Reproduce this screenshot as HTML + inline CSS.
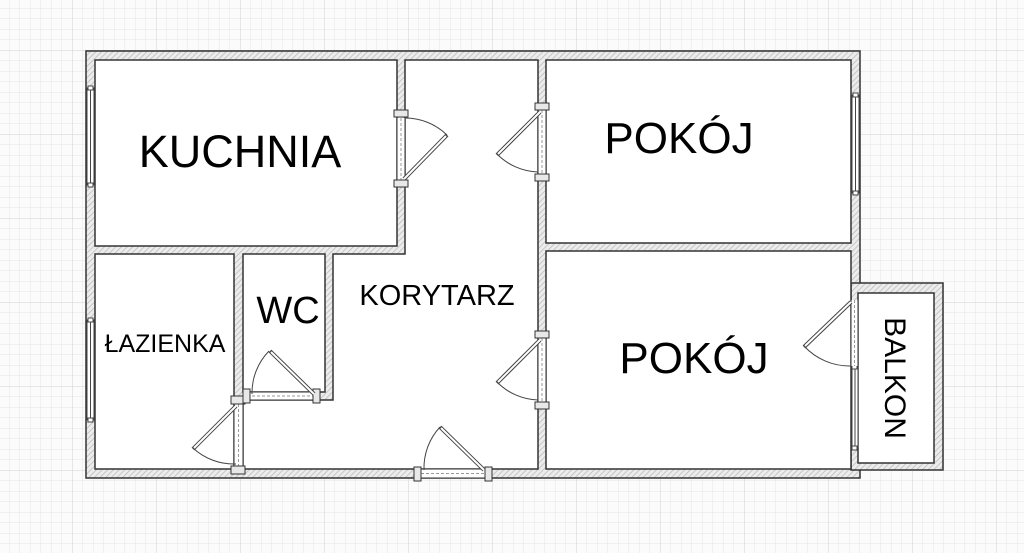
<!DOCTYPE html>
<html><head><meta charset="utf-8"><style>
html,body{margin:0;padding:0;background:#fff}
svg{display:block}
text{font-family:"Liberation Sans",Arial,sans-serif;fill:#000}
</style></head><body>
<svg width="1024" height="553" viewBox="0 0 1024 553" xmlns="http://www.w3.org/2000/svg">
<defs>
<pattern id="minor" x="72" y="50" width="10.5" height="10.5" patternUnits="userSpaceOnUse">
<path d="M0 0H10.5M0 0V10.5" stroke="#e6e6e6" stroke-width="1" fill="none"/>
</pattern>
<pattern id="major" x="72" y="50" width="84" height="84" patternUnits="userSpaceOnUse">
<path d="M0 0H84M0 0V84" stroke="#d2d2d2" stroke-width="1" fill="none"/>
</pattern>
<pattern id="hatch" width="4" height="4" patternUnits="userSpaceOnUse" patternTransform="rotate(45)">
<rect width="4" height="4" fill="#ececec"/>
<line x1="0" y1="0" x2="0" y2="4" stroke="#b5b5b5" stroke-width="1.4"/>
</pattern>
</defs>
<rect width="1024" height="553" fill="#fbfbfb"/>
<rect width="1024" height="553" fill="url(#minor)"/>
<rect width="1024" height="553" fill="url(#major)"/>

<g stroke="#333" stroke-width="1.5" fill="url(#hatch)">
<rect x="86" y="51" width="774" height="427"/>
<rect x="851" y="283" width="92" height="187"/>
</g>
<g stroke="#333" stroke-width="1.5" fill="#fff">
<rect x="95" y="60" width="302" height="186"/>
<polygon points="405,60 538,60 538,469 243,469 243,400 333,400 333,254 405,254"/>
<rect x="95" y="254" width="139" height="215"/>
<rect x="243" y="254" width="82" height="138"/>
<rect x="546" y="60" width="305" height="183"/>
<rect x="546" y="251" width="305" height="218"/>
<rect x="858" y="293" width="76" height="170"/>
</g>

<g stroke="#444" stroke-width="1" fill="#fff">
<rect x="87" y="88" width="7" height="97"/><line x1="90.5" y1="88" x2="90.5" y2="185"/>
<rect x="88" y="86" width="5" height="4"/><rect x="88" y="183" width="5" height="4"/>
<rect x="87" y="320" width="7" height="100"/><line x1="90.5" y1="320" x2="90.5" y2="420"/>
<rect x="88" y="318" width="5" height="4"/><rect x="88" y="418" width="5" height="4"/>
<rect x="852" y="95" width="7" height="98"/><line x1="855.5" y1="95" x2="855.5" y2="193"/>
<rect x="853" y="93" width="5" height="4"/><rect x="853" y="191" width="5" height="4"/>
<rect x="852" y="367" width="6" height="81"/><line x1="855" y1="367" x2="855" y2="448"/>
<rect x="852" y="365" width="5" height="4"/><rect x="852" y="446" width="5" height="4"/>
</g>

<g fill="#fff" stroke="none">
<rect x="397.5" y="118" width="7" height="62"/>
<rect x="538.5" y="110" width="7" height="64"/>
<rect x="538.5" y="338" width="7" height="64"/>
<rect x="234.5" y="404" width="8" height="62"/>
<rect x="247" y="392.5" width="68" height="7"/>
<rect x="421" y="469.5" width="64" height="8"/>
<rect x="851.5" y="300" width="6" height="66"/>
</g>
<g stroke="#999" stroke-width="1" stroke-dasharray="3,2" fill="none">
<line x1="401" y1="118" x2="401" y2="180"/>
<line x1="542" y1="110" x2="542" y2="174"/>
<line x1="542" y1="338" x2="542" y2="402"/>
<line x1="238.5" y1="404" x2="238.5" y2="466"/>
<line x1="247" y1="396" x2="315" y2="396"/>
<line x1="421" y1="473.5" x2="485" y2="473.5"/>
<line x1="854.5" y1="300" x2="854.5" y2="366"/>
</g>
<g stroke="#333" stroke-width="1" fill="#e8e8e8">
<rect x="394" y="110" width="14" height="7"/><rect x="394" y="180" width="14" height="7"/>
<rect x="535" y="103" width="14" height="7"/><rect x="535" y="174" width="14" height="7"/>
<rect x="535" y="331" width="14" height="7"/><rect x="535" y="402" width="14" height="7"/>
<rect x="231" y="396" width="14" height="8"/><rect x="231" y="466" width="14" height="8"/>
<rect x="243" y="389" width="7" height="14"/><rect x="313" y="389" width="7" height="14"/>
<rect x="414" y="467" width="7" height="14"/><rect x="485" y="467" width="7" height="14"/>
</g>
<g stroke="#444" stroke-width="1" fill="none">
<path d="M447 135 A60 60 0 0 0 405 118"/>
<path d="M497 154 A60 60 0 0 0 538 172"/>
<path d="M497 382 A60 60 0 0 0 538 400"/>
<path d="M193 448 A60 60 0 0 0 236 464"/>
<path d="M269 351 A60 60 0 0 0 252 394"/>
<path d="M440 427 A60 60 0 0 0 424 470"/>
<path d="M804 346 A62 62 0 0 0 851 366"/>
</g>
<g stroke="#444" stroke-width="4" stroke-linecap="butt">
<line x1="404" y1="179" x2="447" y2="135"/>
<line x1="540" y1="112" x2="497" y2="155"/>
<line x1="540" y1="340" x2="497" y2="383"/>
<line x1="236" y1="406" x2="193" y2="449"/>
<line x1="314" y1="394" x2="270" y2="351"/>
<line x1="484" y1="470" x2="440" y2="427"/>
<line x1="851" y1="302" x2="804" y2="347"/>
</g>
<g stroke="#fff" stroke-width="2" stroke-linecap="butt">
<line x1="404" y1="179" x2="446" y2="136"/>
<line x1="540" y1="112" x2="498" y2="154"/>
<line x1="540" y1="340" x2="498" y2="382"/>
<line x1="236" y1="406" x2="194" y2="448"/>
<line x1="314" y1="394" x2="271" y2="352"/>
<line x1="484" y1="470" x2="441" y2="428"/>
<line x1="851" y1="302" x2="805" y2="346"/>
</g>

<text x="240" y="167" font-size="45" text-anchor="middle">KUCHNIA</text>
<text x="679" y="153" font-size="44" text-anchor="middle">POKÓJ</text>
<text x="694" y="373" font-size="44" text-anchor="middle">POKÓJ</text>
<text x="437" y="305" font-size="29" text-anchor="middle">KORYTARZ</text>
<text x="288" y="323" font-size="38" text-anchor="middle">WC</text>
<text x="165" y="352" font-size="25" text-anchor="middle">ŁAZIENKA</text>
<text x="0" y="0" font-size="30" text-anchor="middle" transform="translate(885,378) rotate(90)">BALKON</text>
</svg>
</body></html>
